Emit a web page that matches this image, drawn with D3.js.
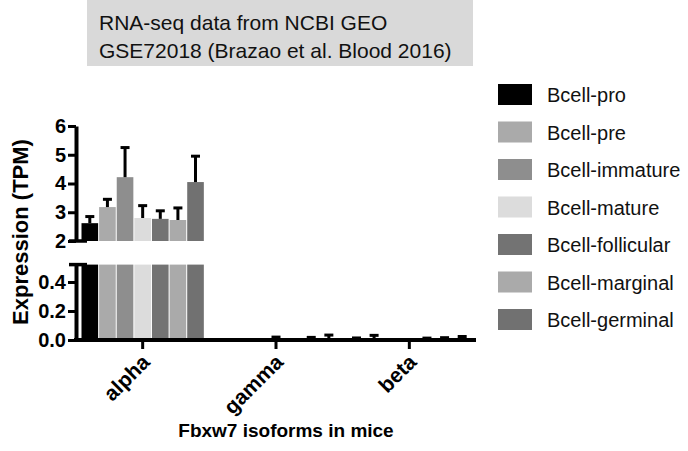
<!DOCTYPE html>
<html><head><meta charset="utf-8">
<script src="https://cdn.jsdelivr.net/npm/d3@7"></script>
<style>body{margin:0;background:#fff}svg{display:block}text{font-family:Arial,"Liberation Sans",sans-serif}</style>
</head><body>
<svg id="c" width="688" height="451"></svg>
<script>
const groups = ["alpha", "gamma", "beta"];
const series = ["Bcell-pro","Bcell-pre","Bcell-immature","Bcell-mature","Bcell-follicular","Bcell-marginal","Bcell-germinal"];
const colors = ["#000000","#aaaaaa","#8e8e8e","#dcdcdc","#737373","#aaaaaa","#717171"];
// mean TPM per series, one array per isoform
const alphaMean = [2.62, 3.18, 4.22, 2.80, 2.77, 2.73, 4.05];
const alphaSD   = [0.23, 0.27, 1.03, 0.43, 0.28, 0.42, 0.90];
const gammaMean = [0.002, 0.002, 0.002, 0.008, 0.002, 0.008, 0.012];
const gammaSD   = [0.0, 0.0, 0.0, 0.012, 0.0, 0.010, 0.022];
const betaMean  = [0.006, 0.010, 0.002, 0.002, 0.005, 0.006, 0.010];
const betaSD    = [0.008, 0.022, 0.0, 0.0, 0.008, 0.010, 0.014];
const upperTicks = [2, 3, 4, 5, 6];
const lowerTicks = [0.0, 0.2, 0.4];
const titleLines = ["RNA-seq data from NCBI GEO", "GSE72018 (Brazao et al. Blood 2016)"];

const means = [alphaMean, gammaMean, betaMean];
const sds = [alphaSD, gammaSD, betaSD];

const svg = d3.select("#c");
const axisX0 = 76, axisX1 = 476;
const lowerMax = 0.52;
const x0 = d3.scaleBand().domain(groups).range([axisX0, axisX1]);
const x1 = d3.scaleBand().domain(series).range([5, x0.bandwidth() - 5]);
const yU = d3.scaleLinear().domain([2, 6]).range([241, 126]);
const yL = d3.scaleLinear().domain([0, lowerMax]).range([340, 264.6]);

// title box
svg.append("rect").attr("x", 87).attr("y", 0).attr("width", 386).attr("height", 66).attr("fill", "#d9d9d9");
svg.selectAll("text.title").data(titleLines).join("text").attr("class","title")
  .attr("x", 99).attr("y", (d,i) => 30 + i*27.5).attr("font-size", 21).attr("fill", "#111").text(d => d);

// bars
const data = [];
groups.forEach((g, gi) => series.forEach((s, si) => data.push({g, s, si, v: means[gi][si], e: sds[gi][si]})));
const gBars = svg.append("g");
data.forEach(d => {
  const x = x0(d.g) + x1(d.s);
  const w = x1.bandwidth();
  const col = colors[d.si];
  // lower segment
  const vl = Math.min(d.v, lowerMax);
  gBars.append("rect").attr("x", x + 0.5).attr("width", w - 1)
    .attr("y", yL(vl)).attr("height", yL(0) - yL(vl)).attr("fill", col);
  if (d.v > 2) {
    const vu = Math.min(d.v, 6);
    gBars.append("rect").attr("x", x + 0.5).attr("width", w - 1)
      .attr("y", yU(vu)).attr("height", yU(2) - yU(vu)).attr("fill", col);
  }
  // error bars (upward only)
  if (d.e > 0) {
    const y = d.v > 2 ? yU : yL;
    const cx = x + w / 2;
    gBars.append("line").attr("x1", cx).attr("x2", cx).attr("y1", y(d.v)).attr("y2", y(d.v + d.e))
      .attr("stroke", "#000").attr("stroke-width", 3);
    gBars.append("line").attr("x1", cx - 4.5).attr("x2", cx + 4.5).attr("y1", y(d.v + d.e)).attr("y2", y(d.v + d.e))
      .attr("stroke", "#000").attr("stroke-width", 3);
  }
});

// y axes
function styleAxis(g) {
  g.select(".domain").attr("stroke-width", 4).attr("stroke", "#000");
  g.selectAll(".tick line").attr("stroke-width", 3).attr("stroke", "#000");
  g.selectAll(".tick text").attr("font-size", 20).attr("font-weight", "bold").attr("fill", "#000")
    .attr("font-family", 'Arial,"Liberation Sans",sans-serif');
}
const axU = svg.append("g").attr("transform", `translate(${axisX0},0)`)
  .call(d3.axisLeft(yU).tickValues(upperTicks).tickFormat(d3.format("d")).tickSize(8).tickSizeOuter(0).tickPadding(2));
styleAxis(axU);
const axL = svg.append("g").attr("transform", `translate(${axisX0},0)`)
  .call(d3.axisLeft(yL).tickValues(lowerTicks).tickFormat(d3.format(".1f")).tickSize(8).tickSizeOuter(0).tickPadding(2));
styleAxis(axL);
// break marks
[yU(2), yL(lowerMax)].forEach(yy => svg.append("line").attr("x1", 69).attr("x2", 87).attr("y1", yy).attr("y2", yy)
  .attr("stroke", "#000").attr("stroke-width", 3.5));

// x axis
const axX = svg.append("g").attr("transform", `translate(0,${yL(0)})`)
  .call(d3.axisBottom(x0).tickSize(9).tickSizeOuter(0).tickFormat(""));
axX.select(".domain").attr("stroke-width", 4).attr("stroke", "#000").attr("d", `M${axisX0 - 2},0H${axisX1}`);
axX.selectAll(".tick line").attr("stroke-width", 3).attr("stroke", "#000");
axX.selectAll(".tick").append("text").attr("transform", "translate(-2,13) rotate(-45)")
  .attr("text-anchor", "end").attr("dy", "0.7em").attr("font-size", 21).attr("font-weight", "bold")
  .attr("fill", "#000").text(d => d);

// axis titles
svg.append("text").attr("x", (axisX0 + axisX1) / 2 + 10).attr("y", 437).attr("text-anchor", "middle")
  .attr("font-size", 19).attr("font-weight", "bold").text("Fbxw7 isoforms in mice");
svg.append("text").attr("transform", "translate(28,232) rotate(-90)").attr("text-anchor", "middle")
  .attr("font-size", 22).attr("font-weight", "bold").text("Expression (TPM)");

// legend
const leg = svg.append("g");
series.forEach((s, i) => {
  const yy = 84 + i * 37.5;
  leg.append("rect").attr("x", 498).attr("y", yy).attr("width", 34).attr("height", 21).attr("fill", colors[i]);
  leg.append("text").attr("x", 547).attr("y", yy + 18).attr("font-size", 20).attr("fill", "#111").text(s);
});
</script>
</body></html>
